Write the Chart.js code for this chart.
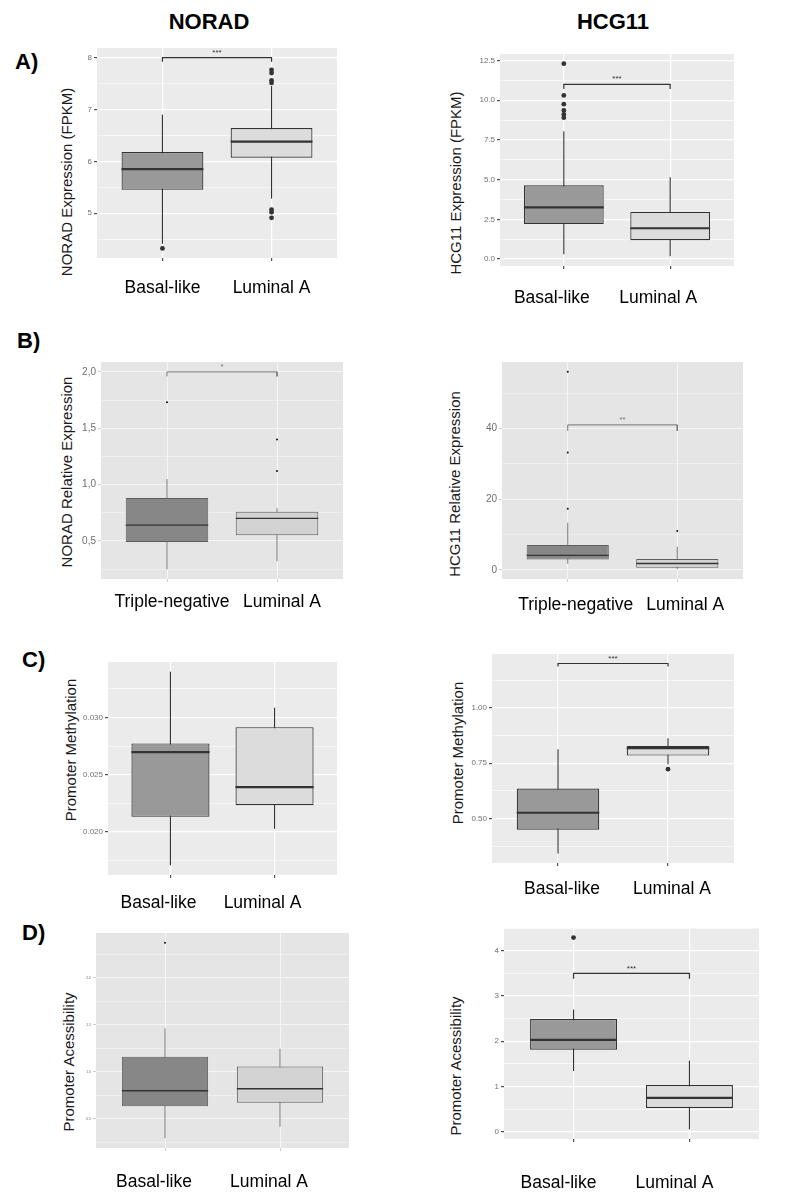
<!DOCTYPE html>
<html>
<head>
<meta charset="utf-8">
<script src="https://cdn.jsdelivr.net/npm/chart.js@4.4.1/dist/chart.umd.min.js"></script>
<style>
  body { margin:0; background:#fff; width:800px; height:1203px; position:relative; overflow:hidden;
         font-family:"Liberation Sans", Arial, sans-serif; }
  canvas { position:absolute; }
  .t { position:absolute; white-space:nowrap; color:#000; }
  .head { font-weight:bold; font-size:22px; transform:translate(-50%,-50%); }
  .letter { font-weight:bold; font-size:22px; transform:translateY(-50%); }
  .ytitle { font-size:15px; color:#1a1a1a; transform:translate(-50%,-50%) rotate(-90deg); }
</style>
</head>
<body>
<div class="t head" style="left:209px;top:22px">NORAD</div>
<div class="t head" style="left:613px;top:22px">HCG11</div>
<div class="t letter" style="left:15px;top:62px">A)</div>
<div class="t letter" style="left:17px;top:341px">B)</div>
<div class="t letter" style="left:22px;top:660px">C)</div>
<div class="t letter" style="left:22px;top:933px">D)</div>
<div class="t ytitle" style="left:66px;top:182px">NORAD Expression (FPKM)</div>
<div class="t ytitle" style="left:455px;top:183px">HCG11 Expression (FPKM)</div>
<div class="t ytitle" style="left:66px;top:472px">NORAD Relative Expression</div>
<div class="t ytitle" style="left:454px;top:484px">HCG11 Relative Expression</div>
<div class="t ytitle" style="left:70px;top:750px">Promoter Methylation</div>
<div class="t ytitle" style="left:457px;top:753px">Promoter Methylation</div>
<div class="t ytitle" style="left:68px;top:1062px">Promoter Acessibility</div>
<div class="t ytitle" style="left:455px;top:1066px">Promoter Acessibility</div>
<script>
// groups on the x axis
var groupsBL = ['Basal-like', 'Luminal A'];
var groupsTN = ['Triple-negative', 'Luminal A'];

// every box: [lower whisker, Q1, median, Q3, upper whisker]
var noradFpkm = [[4.41, 5.45, 5.85, 6.18, 6.90], [5.28, 6.07, 6.38, 6.64, 7.45]];
var noradFpkmOut = [[4.32], [7.76, 7.70, 7.56, 7.51, 5.07, 5.02, 4.91]];
var noradFpkmTicks = [5, 6, 7, 8];
var noradFpkmLabels = ['5', '6', '7', '8'];
var noradFpkmSig = [8.0, 7.92];

var hcgFpkm = [[0.30, 2.20, 3.25, 4.65, 8.05], [0.17, 1.18, 1.94, 2.97, 5.15]];
var hcgFpkmOut = [[12.3, 10.3, 9.75, 9.35, 9.1, 8.9], []];
var hcgFpkmTicks = [0, 2.5, 5, 7.5, 10, 12.5];
var hcgFpkmLabels = ['0.0', '2.5', '5.0', '7.5', '10.0', '12.5'];
var hcgFpkmSig = [11.0, 10.7];

var noradRel = [[0.25, 0.49, 0.64, 0.88, 1.05], [0.32, 0.55, 0.70, 0.76, 0.79]];
var noradRelOut = [[1.73], [1.40, 1.12]];
var noradRelTicks = [0.5, 1, 1.5, 2];
var noradRelLabels = ['0,5', '1,0', '1,5', '2,0'];
var noradRelSig = [2.0, 1.96];

var hcgRel = [[1.7, 2.9, 4.1, 7.0, 13.3], [0.2, 0.6, 1.8, 3.1, 6.5]];
var hcgRelOut = [[56, 33.2, 17.3], [11.0]];
var hcgRelTicks = [0, 20, 40];
var hcgRelLabels = ['0', '20', '40'];
var hcgRelSig = [41, 39.3];

var noradMeth = [[0.0171, 0.02133, 0.02698, 0.02774, 0.0340], [0.02028, 0.02234, 0.02392, 0.02916, 0.03086]];
var noradMethOut = [[], []];
var noradMethTicks = [0.020, 0.025, 0.030];
var noradMethLabels = ['0.020', '0.025', '0.030'];

var hcgMeth = [[0.342, 0.449, 0.526, 0.635, 0.813], [0.745, 0.784, 0.818, 0.828, 0.863]];
var hcgMethOut = [[], [0.723]];
var hcgMethTicks = [0.5, 0.75, 1.0];
var hcgMethLabels = ['0.50', '0.75', '1.00'];
var hcgMethSig = [1.20, 1.187];

var noradAcc = [[0.294, 0.634, 0.798, 1.16, 1.46], [0.415, 0.67, 0.82, 1.056, 1.245]];
var noradAccOut = [[2.37], []];
var noradAccTicks = [0.5, 1, 1.5, 2];
var noradAccLabels = ['0.5', '1.0', '1.5', '2.0'];

var hcgAcc = [[1.34, 1.81, 2.03, 2.49, 2.70], [0.05, 0.525, 0.747, 1.03, 1.57]];
var hcgAccOut = [[4.29], []];
var hcgAccTicks = [0, 1, 2, 3, 4];
var hcgAccLabels = ['0', '1', '2', '3', '4'];
var hcgAccSig = [3.5, 3.38];

// two looks: ggplot default (A, C, D right) and the lighter exported ones (B, D left)
var gg = {bg:'#EBEBEB', grid:'#FFFFFF', major:1.2, minor:0.6, fills:['#999999', '#DCDCDC'], border:'#333333', borderW:1.2,
          median:'#333333', medianW:2.2, whisker:'#333333', whiskerW:1.1, dotR:2.4, dot:'#333333',
          tickFont:8, tickColor:'#707070', tickMark:'#4D4D4D', sigColor:'#333333', sigW:1.2};
var light = {bg:'#E5E5E5', grid:'#F7F7F7', major:0.9, minor:0.5, fills:['#878787', '#D3D3D3'], border:'#5E5E5E', borderW:1,
          median:'#333333', medianW:1.4, whisker:'#7A7A7A', whiskerW:1, dotR:1, dot:'#111111',
          tickFont:10, tickColor:'#6E6E6E', tickMark:'#C8C8C8', sigColor:'#777777', sigW:1};

var panels = [
  {cats:groupsBL, box:noradFpkm, out:noradFpkmOut, ticks:noradFpkmTicks, labels:noradFpkmLabels, sig:noradFpkmSig, stars:'***', style:gg, rect:[97,48,337,258], pad:16.5, shift:0},
  {cats:groupsBL, box:hcgFpkm, out:hcgFpkmOut, ticks:hcgFpkmTicks, labels:hcgFpkmLabels, sig:hcgFpkmSig, stars:'***', style:gg, rect:[500,54,734,266], pad:18.5, shift:-12},
  {cats:groupsTN, box:noradRel, out:noradRelOut, ticks:noradRelTicks, labels:noradRelLabels, sig:noradRelSig, stars:'*', style:light, rect:[101,362,343,579], pad:9.5, shift:5},
  {cats:groupsTN, box:hcgRel, out:hcgRelOut, ticks:hcgRelTicks, labels:hcgRelLabels, sig:hcgRelSig, stars:'**', style:light, rect:[502,362,743,579], pad:12.5, shift:8},
  {cats:groupsBL, box:noradMeth, out:noradMethOut, ticks:noradMethTicks, labels:noradMethLabels, sig:null, stars:'', style:gg, rect:[108,662,337,875], pad:14.5, shift:-12},
  {cats:groupsBL, box:hcgMeth, out:hcgMethOut, ticks:hcgMethTicks, labels:hcgMethLabels, sig:hcgMethSig, stars:'***', style:gg, rect:[492,654,734,863], pad:12.5, shift:4},
  {cats:groupsBL, box:noradAcc, out:noradAccOut, ticks:noradAccTicks, labels:noradAccLabels, sig:null, stars:'', style:light, rect:[96,933,349,1148], pad:20.5, shift:-11, tickFont:3.5},
  {cats:groupsBL, box:hcgAcc, out:hcgAccOut, ticks:hcgAccTicks, labels:hcgAccLabels, sig:hcgAccSig, stars:'***', style:gg, rect:[504,928,759,1139], pad:30.5, shift:-15}
];

// panel background, medians and significance stars
var boxExtras = {
  id: 'boxExtras',
  beforeDraw: function(chart, args, o) {
    var a = chart.chartArea, ctx = chart.ctx;
    ctx.save();
    ctx.fillStyle = o.bg;
    ctx.fillRect(a.left, a.top, a.right - a.left, a.bottom - a.top);
    ctx.restore();
  },
  afterDatasetsDraw: function(chart, args, o) {
    var ctx = chart.ctx, y = chart.scales.y, x = chart.scales.x;
    var meta = chart.getDatasetMeta(1);
    ctx.save();
    ctx.strokeStyle = o.color;
    ctx.lineWidth = o.width;
    meta.data.forEach(function(bar, i) {
      var py = y.getPixelForValue(o.medians[i]);
      ctx.beginPath();
      ctx.moveTo(bar.x - bar.width / 2, py);
      ctx.lineTo(bar.x + bar.width / 2, py);
      ctx.stroke();
    });
    if (o.stars) {
      ctx.fillStyle = o.sigColor;
      ctx.font = '8px "Liberation Sans", Arial, sans-serif';
      ctx.textAlign = 'center';
      ctx.textBaseline = 'bottom';
      ctx.fillText(o.stars, x.getPixelForValue(1.5), y.getPixelForValue(o.sigY) - 1);
    }
    ctx.restore();
  }
};

function makeChart(p) {
  var s = p.style;
  var L = p.rect[0], T = p.rect[1], R = p.rect[2], B = p.rect[3];
  var yW = 45, topPad = 16, rightPad = 10, xH = 60;
  var cv = document.createElement('canvas');
  cv.width = R - L + yW + rightPad;
  cv.height = B - T + topPad + xH;
  cv.style.left = (L - yW) + 'px';
  cv.style.top = (T - topPad) + 'px';
  document.body.appendChild(cv);

  // y range like ggplot: data extent plus 5 %
  var vals = [];
  p.box.forEach(function(b) { vals.push(b[0], b[4]); });
  p.out.forEach(function(o) { vals = vals.concat(o); });
  if (p.sig) vals.push(p.sig[0]);
  var lo = Math.min.apply(null, vals), hi = Math.max.apply(null, vals);
  var ex = (hi - lo) * 0.05, yMin = lo - ex, yMax = hi + ex;

  // major ticks plus minor gridlines halfway between them
  var step = p.ticks[1] - p.ticks[0];
  var yTicks = p.ticks.map(function(v, i) { return {value:v, label:p.labels[i], minor:false}; });
  for (var m = p.ticks[0] - step / 2; m <= yMax; m += step) {
    if (m >= yMin) yTicks.push({value:m, label:'', minor:true});
  }

  var xs = p.cats.map(function(c, i) { return i + 1; });
  var outPts = [];
  p.out.forEach(function(o, i) { o.forEach(function(v) { outPts.push({x:xs[i], y:v}); }); });
  var datasets = [
    {type:'bar', label:'whisker', data: xs.map(function(x, i) { return {x:x, y:[p.box[i][0], p.box[i][4]]}; }),
     backgroundColor:s.whisker, maxBarThickness:s.whiskerW, grouped:false, order:3, clip:false},
    {type:'bar', label:'box', data: xs.map(function(x, i) { return {x:x, y:[p.box[i][1], p.box[i][3]]}; }),
     backgroundColor:s.fills, borderColor:s.border, borderWidth:s.borderW, borderSkipped:false,
     grouped:false, categoryPercentage:0.75, barPercentage:1, order:2, clip:false},
    {type:'scatter', label:'outliers', data:outPts, pointRadius:s.dotR, pointBackgroundColor:s.dot,
     pointBorderWidth:0, order:1, clip:false}
  ];
  if (p.sig) {
    datasets.push({type:'line', label:'bracket',
      data:[{x:xs[0], y:p.sig[1]}, {x:xs[0], y:p.sig[0]}, {x:xs[1], y:p.sig[0]}, {x:xs[1], y:p.sig[1]}],
      borderColor:s.sigColor, borderWidth:s.sigW, pointRadius:0, fill:false, tension:0, order:0, clip:false});
  }

  new Chart(cv, {
    type: 'bar',
    data: { datasets: datasets },
    options: {
      responsive: false,
      animation: false,
      devicePixelRatio: 1,
      layout: { padding: { top: topPad, right: rightPad, left: 0, bottom: 0 } },
      plugins: {
        legend: { display: false },
        tooltip: { enabled: false },
        boxExtras: { bg:s.bg, color:s.median, width:s.medianW, medians:p.box.map(function(b) { return b[2]; }),
                     stars:p.stars, sigY:p.sig ? p.sig[0] : 0, sigColor:s.sigColor }
      },
      scales: {
        x: {
          type: 'linear', min: 0.4, max: 2.6, offset: false,
          afterBuildTicks: function(sc) { sc.ticks = xs.map(function(v) { return {value:v}; }); },
          afterFit: function(sc) { sc.height = xH; },
          border: { display: false },
          grid: { offset:false, color:s.grid, lineWidth:s.major, tickColor:s.tickMark, tickLength:3 },
          ticks: { autoSkip:false, maxRotation:0, padding:p.pad, labelOffset:p.shift, color:'#000000',
                   font:{ size:17.5, family:'"Liberation Sans", Arial, sans-serif' },
                   callback: function(v) { return p.cats[Math.round(v) - 1]; } }
        },
        y: {
          type: 'linear', min: yMin, max: yMax,
          afterBuildTicks: function(sc) { sc.ticks = yTicks.map(function(t) { return {value:t.value, minor:t.minor}; }); },
          afterFit: function(sc) { sc.width = yW; },
          border: { display: false },
          grid: {
            color: s.grid,
            lineWidth: function(c) { return c.tick && c.tick.minor ? s.minor : s.major; },
            tickColor: function(c) { return c.tick && c.tick.minor ? 'rgba(0,0,0,0)' : s.tickMark; },
            tickLength: 3
          },
          ticks: { autoSkip:false, padding:2, color:s.tickColor,
                   font:{ size:p.tickFont || s.tickFont, family:'"Liberation Sans", Arial, sans-serif' },
                   callback: function(v, i) { return yTicks[i].label; } }
        }
      }
    },
    plugins: [boxExtras]
  });
}

panels.forEach(makeChart);
</script>
</body>
</html>
